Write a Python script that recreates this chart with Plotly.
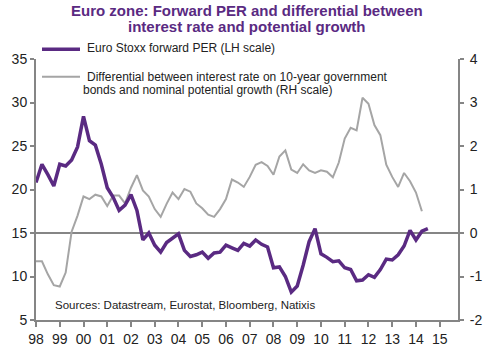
import plotly.graph_objects as go

# Quarterly dates (decimal years)
per_x = [1998 + 0.25 * i for i in range(67)]
per_values = [20.8, 22.9, 21.7, 20.4, 22.9, 22.7, 23.4, 24.9, 28.4, 25.6, 25.1, 22.9,
              20.2, 19.1, 17.6, 18.2, 19.4, 17.6, 14.2, 15.0, 13.6, 12.8, 13.9, 14.4,
              14.9, 13.0, 12.3, 12.5, 12.8, 12.1, 12.7, 12.8, 13.6, 13.3, 13.0, 13.8,
              13.5, 14.2, 13.7, 13.4, 11.0, 11.1, 10.0, 8.2, 8.9, 11.3, 14.0, 15.5,
              12.6, 12.2, 11.7, 11.8, 11.0, 10.8, 9.5, 9.6, 10.2, 9.9, 10.8, 12.0,
              11.9, 12.5, 13.5, 15.3, 14.2, 15.2, 15.5]

diff_x = [1998 + 0.25 * i for i in range(66)]
diff_values = [-0.65, -0.65, -0.95, -1.2, -1.23, -0.91, 0.03, 0.4, 0.84, 0.78, 0.88, 0.84,
               0.62, 0.86, 0.86, 0.68, 1.04, 1.33, 0.98, 0.84, 0.55, 0.37, 0.67, 0.93,
               0.78, 1.01, 0.95, 0.68, 0.57, 0.42, 0.37, 0.55, 0.78, 1.23, 1.16, 1.06,
               1.29, 1.57, 1.63, 1.54, 1.34, 1.76, 1.90, 1.46, 1.38, 1.58, 1.44, 1.38,
               1.44, 1.41, 1.28, 1.62, 2.17, 2.42, 2.36, 3.11, 2.97, 2.48, 2.25, 1.57,
               1.29, 1.06, 1.38, 1.19, 0.93, 0.50]

x_tickvals = list(range(1998, 2016))
x_ticktext = ["98", "99", "00", "01", "02", "03", "04", "05", "06", "07", "08",
              "09", "10", "11", "12", "13", "14", "15"]
left_ticks = [5, 10, 15, 20, 25, 30, 35]
right_ticks = [-2, -1, 0, 1, 2, 3, 4]
right_ticktext = ["-2", "-1", "0", "1", "2", "3", "4"]

PURPLE = "#5a2a82"
GRAY = "#a5a5a5"
AXIS = "#858585"
TEXT = "#222222"
FONT = "Liberation Sans, Arial, sans-serif"

fig = go.Figure()
# Differential on primary axis (right side) so PER line is drawn on top
fig.add_trace(go.Scatter(x=diff_x, y=diff_values, mode="lines", yaxis="y",
                         line=dict(color=GRAY, width=2),
                         name="Differential between interest rate on 10-year government bonds and nominal potential growth (RH scale)",
                         showlegend=False))
fig.add_trace(go.Scatter(x=per_x, y=per_values, mode="lines", yaxis="y2",
                         line=dict(color=PURPLE, width=3.5),
                         name="Euro Stoxx forward PER (LH scale)", showlegend=False))

L, R, T, B = 36, 42, 59, 34
W, H = 500, 359
pw, ph = W - L - R, H - T - B

def px(xp):
    return (xp - L) / pw

def py(yp):
    return (H - B - yp) / ph

shapes = [
    dict(type="line", xref="paper", yref="paper", x0=px(42), x1=px(80), y0=py(49), y1=py(49),
         line=dict(color=PURPLE, width=3.5)),
    dict(type="line", xref="paper", yref="paper", x0=px(42), x1=px(80), y0=py(77), y1=py(77),
         line=dict(color=GRAY, width=2)),
]

annotations = [
    dict(text="<b>Euro zone: Forward PER and differential between</b>", xref="paper", yref="paper",
         x=px(247), y=py(10), xanchor="center", yanchor="middle", showarrow=False,
         font=dict(family=FONT, size=15, color=PURPLE)),
    dict(text="<b>interest rate and potential growth</b>", xref="paper", yref="paper",
         x=px(247), y=py(26), xanchor="center", yanchor="middle", showarrow=False,
         font=dict(family=FONT, size=15, color=PURPLE)),
    dict(text="Euro Stoxx forward PER (LH scale)", xref="paper", yref="paper",
         x=px(85), y=py(48), xanchor="left", yanchor="middle", showarrow=False,
         font=dict(family=FONT, size=12, color=TEXT)),
    dict(text="Differential between interest rate on 10-year government", xref="paper", yref="paper",
         x=px(85), y=py(77), xanchor="left", yanchor="middle", showarrow=False,
         font=dict(family=FONT, size=12, color=TEXT)),
    dict(text="bonds and nominal potential growth (RH scale)", xref="paper", yref="paper",
         x=px(81), y=py(91), xanchor="left", yanchor="middle", showarrow=False,
         font=dict(family=FONT, size=12, color=TEXT)),
    dict(text="Sources: Datastream, Eurostat, Bloomberg, Natixis", xref="paper", yref="paper",
         x=px(53), y=py(310), xanchor="left", yanchor="middle", showarrow=False,
         font=dict(family=FONT, size=11.5, color=TEXT)),
]

fig.update_layout(
    width=W, height=H,
    margin=dict(l=L, r=R, t=T, b=B, pad=0),
    paper_bgcolor="white", plot_bgcolor="white",
    font=dict(family=FONT, size=14, color=TEXT),
    showlegend=False,
    xaxis=dict(range=[1998, 2015.77], tickvals=x_tickvals, ticktext=x_ticktext,
               showgrid=False, zeroline=False, showline=True, linecolor=AXIS, linewidth=2,
               ticks="outside", ticklen=5, tickwidth=1.5, tickcolor=AXIS,
               tickfont=dict(size=14, color=TEXT)),
    yaxis=dict(range=[-2, 4], tickvals=right_ticks, ticktext=right_ticktext, side="right",
               showgrid=False, zeroline=True, zerolinecolor=AXIS, zerolinewidth=1.5,
               showline=True, linecolor=AXIS, linewidth=2,
               ticks="outside", ticklen=4, tickwidth=1.5, tickcolor=AXIS,
               ticklabelstandoff=3,
               tickfont=dict(size=14, color=TEXT)),
    yaxis2=dict(range=[5, 35], tickvals=left_ticks, side="left", overlaying="y",
                showgrid=False, zeroline=False, showline=True, linecolor=AXIS, linewidth=2,
                ticks="outside", ticklen=4, tickwidth=1.5, tickcolor=AXIS,
                tickfont=dict(size=14, color=TEXT)),
    shapes=shapes,
    annotations=annotations,
)

fig.write_html(
    "out.html",
    config={"displayModeBar": False},
    post_script="document.body.style.margin='0px';document.body.style.overflow='hidden';",
)
